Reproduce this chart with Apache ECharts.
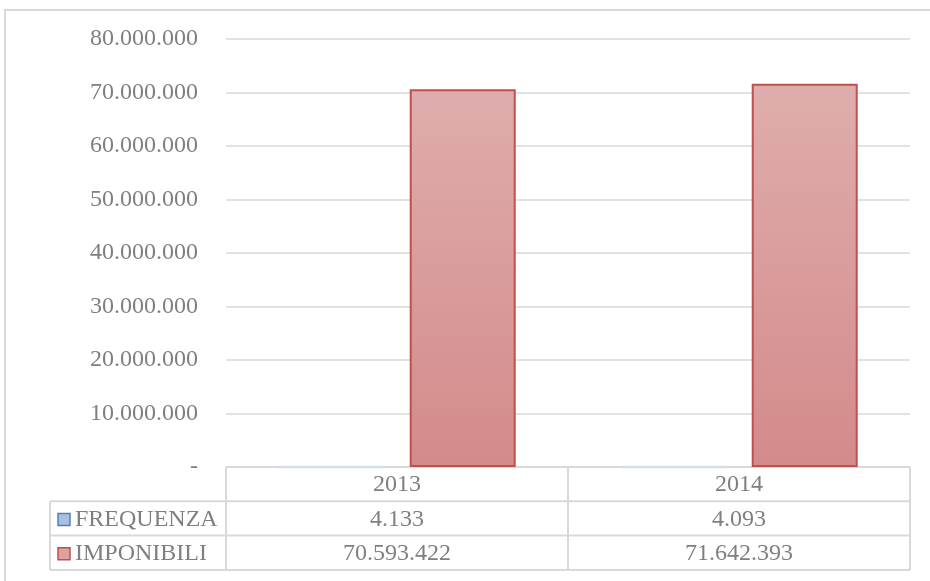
<!DOCTYPE html>
<html>
<head>
<meta charset="utf-8">
<script src="https://cdn.jsdelivr.net/npm/echarts@6/dist/echarts.min.js"></script>
<style>
  html, body { margin: 0; padding: 0; background: #fff; }
  #chart { width: 930px; height: 581px; }
</style>
</head>
<body>
<div id="chart"></div>
<script>
// dati
const categories = ['2013', '2014'];
const frequenza = [4133, 4093];
const imponibili = [70593422, 71642393];
const seriesNames = ['FREQUENZA', 'IMPONIBILI'];

const textColor = '#7f7f7f';
const lineColor = '#d9d9d9';
const font = '"Liberation Serif", "Times New Roman", serif';
const fontSize = 24;

function fmt(n) {
  if (n === 0) return '-';
  return String(n).replace(/\B(?=(\d{3})+(?!\d))/g, '.');
}

const chart = echarts.init(document.getElementById('chart'));

let option = {
  animation: false,
  grid: { left: 226, right: 20, top: 39, bottom: 114 },
  xAxis: {
    type: 'category',
    data: categories,
    axisLine: { show: false },
    axisTick: { show: false },
    axisLabel: { show: false }
  },
  yAxis: {
    type: 'value',
    min: 0,
    max: 80000000,
    interval: 10000000,
    axisLine: { show: false },
    axisTick: { show: false },
    axisLabel: {
      margin: 28,
      color: textColor,
      fontFamily: font,
      fontSize: fontSize,
      formatter: fmt
    },
    splitLine: { lineStyle: { color: lineColor, width: 1.5 } }
  },
  series: [
    {
      name: seriesNames[0],
      type: 'bar',
      data: frequenza,
      barWidth: 106,
      barGap: '24%',
      itemStyle: {
        color: '#b9c9e0',
        borderColor: '#d3ddec',
        borderWidth: 2.5
      }
    },
    {
      name: seriesNames[1],
      type: 'bar',
      data: imponibili,
      barWidth: 106,
      barGap: '24%',
      itemStyle: {
        color: new echarts.graphic.LinearGradient(0, 0, 0, 1, [
          { offset: 0, color: '#dfadad' },
          { offset: 1, color: '#d48a8a' }
        ]),
        borderColor: '#c0504d',
        borderWidth: 2
      }
    }
  ]
};
chart.setOption(option);

// tabella dati sotto il grafico
const x0 = chart.convertToPixel({ xAxisIndex: 0 }, 0);
const x1 = chart.convertToPixel({ xAxisIndex: 0 }, 1);
const half = (x1 - x0) / 2;
const colEdges = [x0 - half, x0 + half, x1 + half];
const tableLeft = 50;
const rowTop = chart.convertToPixel({ yAxisIndex: 0 }, 0);
const rowH = 34.3;
const rows = [rowTop, rowTop + rowH, rowTop + 2 * rowH, rowTop + 3 * rowH];

const lineStyle = { stroke: lineColor, lineWidth: 2 };
const graphics = [];

// cornice esterna
graphics.push({
  type: 'rect', silent: true,
  shape: { x: 5, y: 10, width: 960, height: 620 },
  style: { fill: null, stroke: lineColor, lineWidth: 2 }
});

// linee orizzontali
graphics.push({ type: 'line', shape: { x1: colEdges[0], y1: rows[0], x2: colEdges[2], y2: rows[0] }, style: lineStyle });
for (let i = 1; i < rows.length; i++) {
  graphics.push({ type: 'line', shape: { x1: tableLeft, y1: rows[i], x2: colEdges[2], y2: rows[i] }, style: lineStyle });
}
// linee verticali
graphics.push({ type: 'line', shape: { x1: tableLeft, y1: rows[1], x2: tableLeft, y2: rows[3] }, style: lineStyle });
colEdges.forEach(function (x) {
  graphics.push({ type: 'line', shape: { x1: x, y1: rows[0], x2: x, y2: rows[3] }, style: lineStyle });
});

function cellText(text, x, y, align) {
  return {
    type: 'text', silent: true, x: x, y: y,
    style: {
      text: text, fill: textColor, font: fontSize + 'px ' + font,
      align: align || 'center', verticalAlign: 'middle'
    }
  };
}

// intestazione anni
categories.forEach(function (c, i) {
  graphics.push(cellText(c, (colEdges[i] + colEdges[i + 1]) / 2, (rows[0] + rows[1]) / 2 + 1));
});

// righe serie
const seriesData = [frequenza, imponibili];
const legendFill = ['#a9bfdf', '#dca0a0'];
const legendStroke = ['#4f81bd', '#c0504d'];
seriesData.forEach(function (arr, r) {
  const cy = (rows[r + 1] + rows[r + 2]) / 2 + 1;
  graphics.push({
    type: 'rect', silent: true,
    shape: { x: tableLeft + 8, y: cy - 6, width: 12, height: 12 },
    style: { fill: legendFill[r], stroke: legendStroke[r], lineWidth: 1.5 }
  });
  graphics.push(cellText(seriesNames[r], tableLeft + 25, cy, 'left'));
  arr.forEach(function (v, i) {
    graphics.push(cellText(fmt(v), (colEdges[i] + colEdges[i + 1]) / 2, cy));
  });
});

chart.setOption({ graphic: graphics });
</script>
</body>
</html>
